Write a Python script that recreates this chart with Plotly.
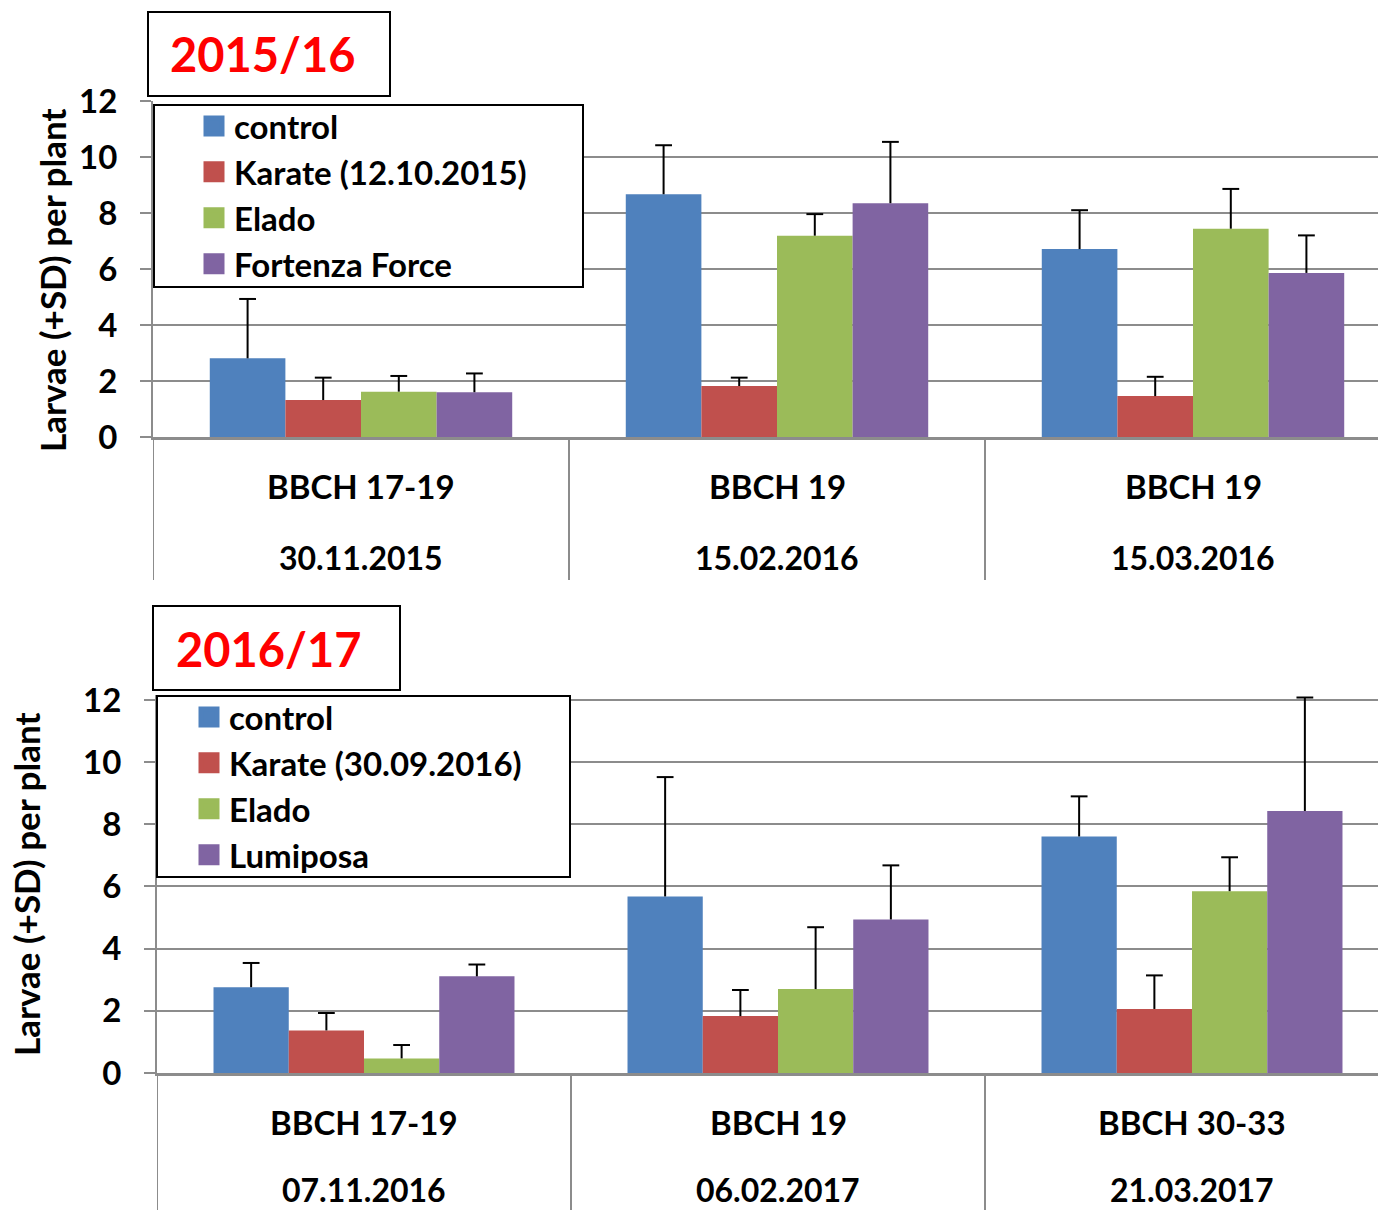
import plotly.graph_objects as go
import numpy as np

# ---------------- data ----------------
stages_a = ["BBCH 17-19", "BBCH 19", "BBCH 19"]
dates_a = ["30.11.2015", "15.02.2016", "15.03.2016"]
names_a = ["control", "Karate (12.10.2015)", "Elado", "Fortenza Force"]
control_a = [2.81, 8.67, 6.71]
control_a_sd = [2.12, 1.75, 1.39]
karate_a = [1.32, 1.82, 1.46]
karate_a_sd = [0.80, 0.30, 0.69]
elado_a = [1.62, 7.19, 7.44]
elado_a_sd = [0.56, 0.77, 1.42]
fortenza_a = [1.60, 8.35, 5.86]
fortenza_a_sd = [0.67, 2.19, 1.34]

stages_b = ["BBCH 17-19", "BBCH 19", "BBCH 30-33"]
dates_b = ["07.11.2016", "06.02.2017", "21.03.2017"]
names_b = ["control", "Karate (30.09.2016)", "Elado", "Lumiposa"]
control_b = [2.76, 5.68, 7.61]
control_b_sd = [0.78, 3.84, 1.29]
karate_b = [1.37, 1.83, 2.06]
karate_b_sd = [0.56, 0.84, 1.08]
elado_b = [0.47, 2.70, 5.85]
elado_b_sd = [0.43, 1.99, 1.09]
lumiposa_b = [3.11, 4.94, 8.43]
lumiposa_b_sd = [0.38, 1.74, 3.65]

y_ticks = [0, 2, 4, 6, 8, 10, 12]
season_a = "2015/16"
season_b = "2016/17"
y_title = "Larvae (+SD) per plant"

colors = ["#4F81BD", "#C0504D", "#9BBB59", "#8064A2"]

# ---------------- geometry ----------------
W, H = 1378, 1210
FONT = "Lato"
BARGAP = 0.273
GRID = "#8C8C8C"


def px(x):
    return x / W


def py(y):
    return 1 - y / H


fig = go.Figure()

panels = [
    dict(xa="x", ya="y", leg="legend", names=names_a, stages=stages_a, dates=dates_a,
         vals=[control_a, karate_a, elado_a, fortenza_a],
         sds=[control_a_sd, karate_a_sd, elado_a_sd, fortenza_a_sd]),
    dict(xa="x2", ya="y2", leg="legend2", names=names_b, stages=stages_b, dates=dates_b,
         vals=[control_b, karate_b, elado_b, lumiposa_b],
         sds=[control_b_sd, karate_b_sd, elado_b_sd, lumiposa_b_sd]),
]

bw = (1 - BARGAP) / 4
for p in panels:
    xc = np.arange(len(p["stages"])) + 0.5
    for i, (nm, v, sd) in enumerate(zip(p["names"], p["vals"], p["sds"])):
        fig.add_trace(go.Bar(
            x=xc, y=v, name=nm, marker=dict(color=colors[i], line=dict(width=0)),
            error_y=dict(type="data", array=sd, arrayminus=[0] * len(sd), symmetric=False,
                         width=0, thickness=2, color="black"),
            xaxis=p["xa"], yaxis=p["ya"], showlegend=False, cliponaxis=False,
            offsetgroup=str(i),
        ))
    for i, (nm, v, sd) in enumerate(zip(p["names"], p["vals"], p["sds"])):
        fig.add_trace(go.Scatter(
            x=xc + (i - 1.5) * bw, y=np.array(v) + np.array(sd), mode="markers",
            marker=dict(symbol="line-ew", size=12, line=dict(width=2, color="black")),
            xaxis=p["xa"], yaxis=p["ya"], showlegend=False, hoverinfo="skip", cliponaxis=False,
        ))
    for i, nm in enumerate(p["names"]):
        fig.add_trace(go.Scatter(
            x=[None], y=[None], mode="markers", name=nm,
            marker=dict(symbol="square", size=16, color=colors[i], line=dict(color=colors[i], width=5)),
            xaxis=p["xa"], yaxis=p["ya"], legend=p["leg"],
        ))

tickfont = dict(family=FONT, size=33, color="black", weight="bold")
axis_common = dict(showline=True, linecolor=GRID, zeroline=False, showticklabels=False,
                   showgrid=False, fixedrange=True)
yaxis_common = dict(showline=True, linecolor=GRID, linewidth=2, showgrid=True, gridcolor=GRID,
                    gridwidth=2, zeroline=False, tickvals=y_ticks, ticks="outside", ticklen=11,
                    tickcolor=GRID, tickwidth=2, tickfont=tickfont, ticklabelstandoff=16,
                    automargin=False, fixedrange=True)

legend_font = dict(family=FONT, size=33, color="black", weight="bold")
fig.update_layout(
    width=W, height=H, margin=dict(l=0, r=0, t=0, b=0, autoexpand=False),
    paper_bgcolor="white", plot_bgcolor="white",
    barmode="group", bargap=BARGAP, bargroupgap=0,
    xaxis=dict(domain=[px(153), 1], range=[0, (W - 153) / 416], anchor="y", linewidth=3, **axis_common),
    yaxis=dict(domain=[py(437), py(101)], range=[0, 12], anchor="x", **yaxis_common),
    xaxis2=dict(domain=[px(157), 1], range=[0, (W - 157) / 414], anchor="y2", linewidth=3, **axis_common),
    yaxis2=dict(domain=[py(1073), py(1073 - 12.15 * (373 / 12))], range=[0, 12.15], anchor="x2", **yaxis_common),
    legend=dict(x=px(194), y=py(98), xanchor="left", yanchor="top", bgcolor="rgba(0,0,0,0)",
                borderwidth=0, itemwidth=30, font=legend_font),
    legend2=dict(x=px(189), y=py(689), xanchor="left", yanchor="top", bgcolor="rgba(0,0,0,0)",
                 borderwidth=0, itemwidth=30, font=legend_font),
    showlegend=True,
)

shapes = []
annotations = []
# title boxes and legend boxes
for (x0, y0, x1, y1) in [(148, 12, 390, 96), (154, 105, 583, 287),
                         (153, 606, 400, 690), (157, 696, 570, 877)]:
    shapes.append(dict(type="rect", xref="paper", yref="paper", x0=px(x0), x1=px(x1),
                       y0=py(y1), y1=py(y0), line=dict(color="black", width=2),
                       fillcolor="white", layer="above"))

for text, x, y in [(season_a, 168, 54), (season_b, 174, 649)]:
    annotations.append(dict(text=text, xref="paper", yref="paper", x=px(x), y=py(y),
                            xanchor="left", yanchor="middle", showarrow=False,
                            font=dict(family=FONT, size=47, color="#FF0000", weight="bold")))

for x, y in [(52, 281), (26, 885)]:
    annotations.append(dict(text=y_title, xref="paper", yref="paper", x=px(x), y=py(y),
                            xanchor="center", yanchor="middle", textangle=-90, showarrow=False,
                            font=dict(family=FONT, size=35, color="black", weight="bold")))

# category label area: dividers and two-line labels
for p, xa, y_line1, y_line2, y_bottom in [(panels[0], "x", 486, 557, 580), (panels[1], "x2", 1122, 1189, 1210)]:
    ya_dom = fig.layout.yaxis.domain if xa == "x" else fig.layout.yaxis2.domain
    n = len(p["stages"])
    for k in range(n + 1):
        shapes.append(dict(type="line", xref=xa, yref="paper", x0=k, x1=k,
                           y0=ya_dom[0], y1=py(y_bottom), line=dict(color=GRID, width=2)))
    for k in range(n):
        annotations.append(dict(text=p["stages"][k], xref=xa, yref="paper", x=k + 0.5, y=py(y_line1),
                                xanchor="center", yanchor="middle", showarrow=False,
                                font=dict(family=FONT, size=33, color="black", weight="bold")))
        annotations.append(dict(text=p["dates"][k], xref=xa, yref="paper", x=k + 0.5, y=py(y_line2),
                                xanchor="center", yanchor="middle", showarrow=False,
                                font=dict(family=FONT, size=32, color="black", weight="bold")))

fig.update_layout(shapes=shapes, annotations=annotations)
fig.write_html("out.html", config={"displayModeBar": False},
               post_script="document.body.style.margin='0px';document.body.style.overflow='hidden';")
